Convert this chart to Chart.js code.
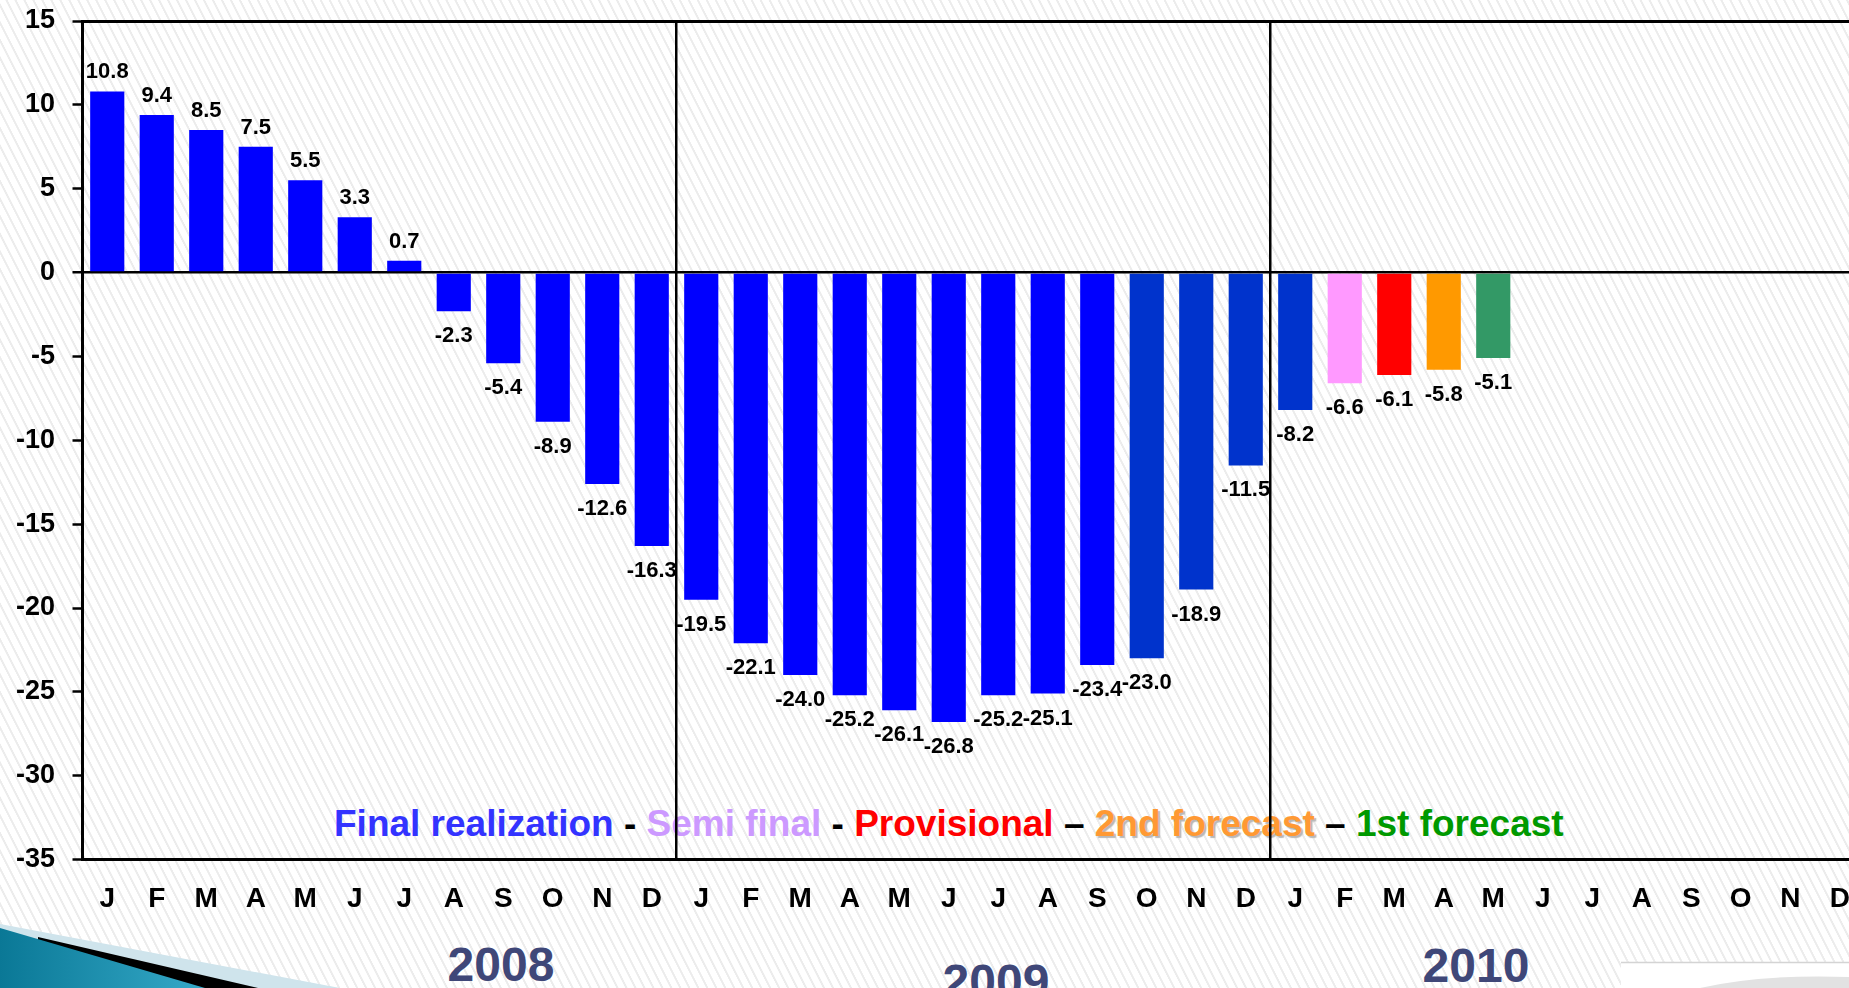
<!DOCTYPE html>
<html>
<head>
<meta charset="utf-8">
<script src="https://cdn.jsdelivr.net/npm/chart.js@4.4.1/dist/chart.umd.min.js"></script>
<style>
html,body{margin:0;padding:0;width:1849px;height:988px;overflow:hidden;}
body{
  position:relative;
  font-family:"Liberation Sans",Arial,sans-serif;
  background:repeating-linear-gradient(63deg,#ffffff 0px,#ffffff 5px,#ececec 5.5px,#ececec 7px,#ffffff 7.5px,#ffffff 8px);
}
#deco{position:absolute;left:0;top:0;z-index:0;}
#legend{position:absolute;left:334px;top:805px;font-size:37px;line-height:37px;font-weight:bold;white-space:nowrap;z-index:1;}
#legend .d{color:#000;}
.year{position:absolute;width:200px;text-align:center;font-size:48px;line-height:48px;font-weight:bold;color:#3f4778;z-index:1;}
#wrap{position:absolute;left:0;top:0;width:1866px;height:988px;z-index:2;}
</style>
</head>
<body>
<svg id="deco" width="1849" height="988">
  <defs>
    <linearGradient id="teal" x1="0" y1="0" x2="1" y2="0">
      <stop offset="0" stop-color="#0a7896"/>
      <stop offset="1" stop-color="#35a9c8"/>
    </linearGradient>
  </defs>
  <polygon points="0,924 340,988 0,988" fill="#cfe4ec"/>
  <polygon points="38,937 258,988 190,988 38,940" fill="#000"/>
  <polygon points="0,928 205,988 0,988" fill="url(#teal)"/>
  <rect x="1621" y="962" width="228" height="26" fill="#ffffff"/>
  <line x1="1621" y1="962.5" x2="1849" y2="962.5" stroke="#d4d4d4" stroke-width="1.5"/>
  <path d="M1700,988 Q1760,974 1849,977 L1849,988 Z" fill="#e2e2e2"/>
</svg>

<div id="legend"><span style="color:#3333ff">Final realization</span><span class="d"> - </span><span style="color:#cc99ff">Semi final</span><span class="d"> - </span><span style="color:#ff0000">Provisional</span><span class="d"> – </span><span style="color:#ff9933;text-shadow:2px 2px 1px #b8b8b8">2nd forecast</span><span class="d"> – </span><span style="color:#009900">1st forecast</span></div>

<div class="year" style="left:401px;top:941px;">2008</div>
<div class="year" style="left:896px;top:958px;">2009</div>
<div class="year" style="left:1376px;top:942px;">2010</div>

<div id="wrap"><canvas id="c" width="1866" height="988"></canvas></div>

<script>
// ---- data ----
const months = ['J','F','M','A','M','J','J','A','S','O','N','D'];
const monthLabels = months.concat(months, months);

const values2008 = [10.8, 9.4, 8.5, 7.5, 5.5, 3.3, 0.7, -2.3, -5.4, -8.9, -12.6, -16.3];
const values2009 = [-19.5, -22.1, -24.0, -25.2, -26.1, -26.8, -25.2, -25.1, -23.4, -23.0, -18.9, -11.5];
const values2010 = [-8.2, -6.6, -6.1, -5.8, -5.1, null, null, null, null, null, null, null];

const status2008 = ['final','final','final','final','final','final','final','final','final','final','final','final'];
const status2009 = ['final','final','final','final','final','final','final','final','final','final2','final2','final2'];
const status2010 = ['final2','semi','prov','f2','f1',null,null,null,null,null,null,null];

const yTicks = [15, 10, 5, 0, -5, -10, -15, -20, -25, -30, -35];

// ---- styles ----
const statusColors = {
  final: '#0000ff',
  final2: '#0033cc',
  semi: '#ff99ff',
  prov: '#ff0000',
  f2: '#ff9900',
  f1: '#339966'
};

const values = values2008.concat(values2009, values2010);
const statuses = status2008.concat(status2009, status2010);
const barColors = statuses.map(s => s ? statusColors[s] : 'rgba(0,0,0,0)');

const FONT = '"Liberation Sans", Arial, sans-serif';

const valueLabels = {
  id: 'valueLabels',
  afterDatasetsDraw(chart) {
    const ctx = chart.ctx;
    const meta = chart.getDatasetMeta(0);
    const data = chart.data.datasets[0].data;
    ctx.save();
    ctx.font = 'bold 22px ' + FONT;
    ctx.textAlign = 'center';
    ctx.textBaseline = 'alphabetic';
    ctx.fillStyle = '#000';
    meta.data.forEach((bar, i) => {
      const v = data[i];
      if (v === null || v === undefined) return;
      const txt = v.toFixed(1);
      const y = v >= 0 ? bar.y - 13 : bar.y + 31;
      ctx.fillText(txt, bar.x, y);
    });
    ctx.restore();
  }
};

const lineAt = [15, 0, -35];

new Chart(document.getElementById('c'), {
  type: 'bar',
  data: {
    labels: monthLabels,
    datasets: [{
      data: values,
      backgroundColor: barColors,
      borderWidth: 0,
      barPercentage: 0.69,
      categoryPercentage: 1.0
    }]
  },
  options: {
    responsive: false,
    animation: false,
    devicePixelRatio: 1,
    layout: { padding: { top: 21, right: 1.5, bottom: 0, left: 0 } },
    plugins: { legend: { display: false }, tooltip: { enabled: false } },
    scales: {
      x: {
        grid: {
          offset: true,
          drawTicks: false,
          color: c => (c.index === 12 || c.index === 24) ? '#000' : 'rgba(0,0,0,0)',
          lineWidth: 2.5
        },
        border: { display: true, color: '#000', width: 3 },
        ticks: {
          autoSkip: false,
          maxRotation: 0,
          minRotation: 0,
          padding: 23,
          color: '#000',
          font: { family: FONT, size: 28, weight: 'bold' }
        },
        afterFit: s => { s.height = 128.4; s.paddingLeft = 0; s.paddingRight = 0; }
      },
      y: {
        min: -35,
        max: 15,
        afterBuildTicks: s => { s.ticks = yTicks.map(v => ({ value: v })); },
        grid: {
          color: c => lineAt.includes(c.tick && c.tick.value) ? '#000' : 'rgba(0,0,0,0)',
          lineWidth: c => (c.tick && c.tick.value === 0) ? 2.5 : 3,
          tickColor: '#000',
          tickLength: 10,
          tickWidth: 2.5
        },
        border: { display: true, color: '#000', width: 3 },
        ticks: {
          padding: 17.5,
          color: '#000',
          font: { family: FONT, size: 27, weight: 'bold' },
          callback: v => String(v)
        },
        afterFit: s => { s.width = 82.5; s.paddingTop = 0; s.paddingBottom = 0; }
      }
    }
  },
  plugins: [valueLabels]
});
</script>
</body>
</html>
